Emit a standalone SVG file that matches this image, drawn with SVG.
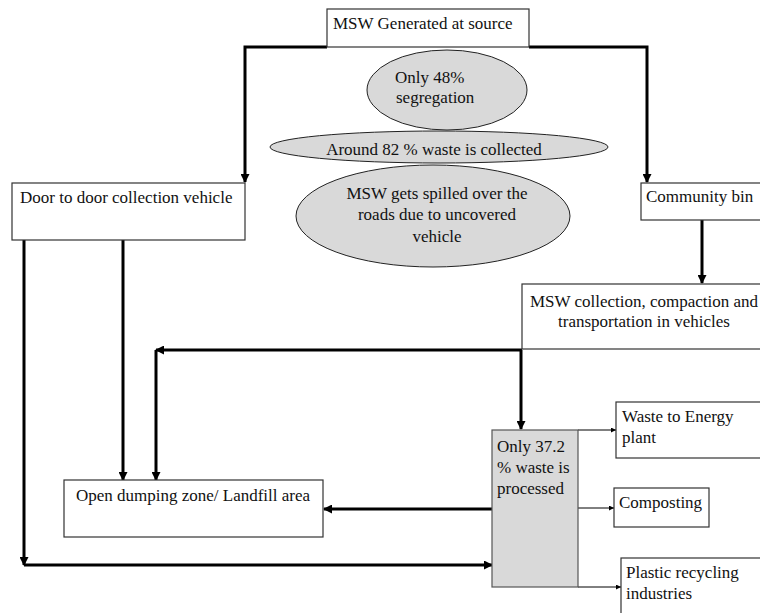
<svg xmlns="http://www.w3.org/2000/svg" width="760" height="613" viewBox="0 0 760 613">
<style>
text{font-family:'Liberation Serif','Times New Roman',Times,'Tinos','DejaVu Serif',serif;font-size:17px;fill:#111}
.box{fill:#fff;stroke:#333;stroke-width:1.2}
.ell{fill:#d9d9d9;stroke:#222;stroke-width:1}
.gbox{fill:#d9d9d9;stroke:#555;stroke-width:1.2}
.thick{fill:none;stroke:#000;stroke-width:3}
.thin{fill:none;stroke:#000;stroke-width:1}
.mid{text-anchor:middle}
</style>
<defs>
<marker id="ah" markerUnits="userSpaceOnUse" markerWidth="9" markerHeight="9" refX="8" refY="4.5" orient="auto"><path d="M0,0 L9,4.5 L0,9 z" fill="#000"/></marker>
<marker id="as" markerUnits="userSpaceOnUse" markerWidth="5" markerHeight="5" refX="5" refY="2.5" orient="auto"><path d="M0,0 L5,2.5 L0,5 z" fill="#000"/></marker>
</defs>
<g id="connectors">
<path class="thick" d="M327,47 H245 V182" marker-end="url(#ah)"/>
<path class="thick" d="M529,47 H647 V182" marker-end="url(#ah)"/>
<path class="thick" d="M702,220 V283" marker-end="url(#ah)"/>
<path class="thick" d="M522,350 H156" marker-end="url(#ah)"/>
<path class="thick" d="M156,350 V480" marker-end="url(#ah)"/>
<path class="thick" d="M521,350 V429" marker-end="url(#ah)"/>
<path class="thick" d="M123,240 V480" marker-end="url(#ah)"/>
<path class="thick" d="M24,240 V565" marker-end="url(#ah)"/>
<path class="thick" d="M24,565 H492" marker-end="url(#ah)"/>
<path class="thick" d="M492,509 H324" marker-end="url(#ah)"/>
<path class="thin" d="M578,430 H616" marker-end="url(#as)"/>
<path class="thin" d="M578,508 H614" marker-end="url(#as)"/>
<path class="thin" d="M578,587 H621" marker-end="url(#as)"/>
</g>
<g id="msw-generated"><rect class="box" x="327" y="9" width="202" height="38"/><text x="333" y="29">MSW Generated at source</text></g>
<g id="segregation"><ellipse class="ell" cx="447" cy="90" rx="80" ry="40"/><text x="395" y="83">Only 48%</text><text x="396" y="103">segregation</text></g>
<g id="collected"><ellipse class="ell" cx="439" cy="147" rx="169" ry="16"/><text class="mid" x="434" y="155">Around 82 % waste is collected</text></g>
<g id="spilled"><ellipse class="ell" cx="433" cy="216" rx="137" ry="51"/><text class="mid" x="437" y="199">MSW gets spilled over the</text><text class="mid" x="437" y="220">roads due to uncovered</text><text class="mid" x="437" y="242">vehicle</text></g>
<g id="door"><rect class="box" x="12" y="183" width="233" height="57"/><text x="20" y="203">Door to door collection vehicle</text></g>
<g id="community"><rect class="box" x="641" y="183" width="130" height="37"/><text x="646" y="202">Community bin</text></g>
<g id="msw-collection"><rect class="box" x="522" y="284" width="250" height="65"/><text class="mid" x="644" y="307">MSW collection, compaction and</text><text class="mid" x="644" y="327">transportation in vehicles</text></g>
<g id="open-dumping"><rect class="box" x="64" y="480" width="259" height="57"/><text class="mid" x="193" y="501">Open dumping zone/ Landfill area</text></g>
<g id="processed"><rect class="gbox" x="492" y="430" width="86" height="157"/><text x="497" y="452">Only 37.2</text><text x="497" y="473">% waste is</text><text x="497" y="494">processed</text></g>
<g id="wte"><rect class="box" x="616" y="402" width="150" height="56"/><text x="622" y="422">Waste to Energy</text><text x="622" y="443">plant</text></g>
<g id="composting"><rect class="box" x="614" y="488" width="95" height="39"/><text x="619" y="508">Composting</text></g>
<g id="plastic"><rect class="box" x="621" y="558" width="150" height="70"/><text x="626" y="578">Plastic recycling</text><text x="626" y="599">industries</text></g>
</svg>
